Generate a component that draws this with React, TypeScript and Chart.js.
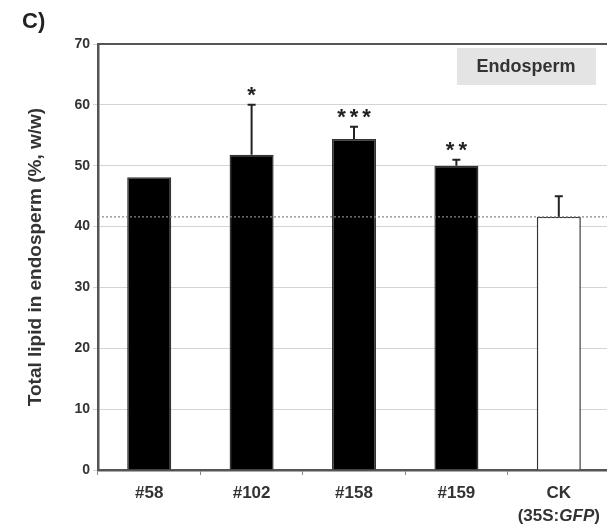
import React, { useEffect, useRef } from "react";
import { Chart, registerables } from "chart.js";

Chart.register(...registerables);

const categories = ["#58", "#102", "#158", "#159", "CK"];
const controlSubLabel = ["(35S:", "GFP", ")"]; // middle part italic
const values = [48.1, 51.8, 54.4, 50.0, 41.6];
const errors = [0, 8.2, 2.0, 1.0, 3.4];
const significance = ["", "*", "***", "**", ""];
const barColors = ["#000000", "#000000", "#000000", "#000000", "#ffffff"];
const yTicks = [0, 10, 20, 30, 40, 50, 60, 70];
const panelLabel = "C)";
const tissueLabel = "Endosperm";
const yTitle = "Total lipid in endosperm (%, w/w)";

const FONT = "'Liberation Sans', Arial, sans-serif";

const overlay = {
  id: "overlay",
  afterDatasetsDraw(chart: any) {
    const ctx = chart.ctx;
    const ca = chart.chartArea;
    const xs = chart.scales.x;
    const ys = chart.scales.y;
    ctx.save();
    // control reference dotted line
    const ckY = ys.getPixelForValue(values[values.length - 1]);
    ctx.strokeStyle = "#888";
    ctx.lineWidth = 1.2;
    ctx.setLineDash([2, 2]);
    ctx.beginPath();
    ctx.moveTo(ca.left, ckY);
    ctx.lineTo(ca.right, ckY);
    ctx.stroke();
    ctx.setLineDash([]);
    // error bars
    ctx.strokeStyle = "#222";
    ctx.lineWidth = 2;
    values.forEach((v, i) => {
      if (!errors[i]) return;
      const x = xs.getPixelForValue(i);
      const y0 = ys.getPixelForValue(v);
      const y1 = ys.getPixelForValue(v + errors[i]);
      ctx.beginPath();
      ctx.moveTo(x, y0);
      ctx.lineTo(x, y1);
      ctx.moveTo(x - 4, y1);
      ctx.lineTo(x + 4, y1);
      ctx.stroke();
    });
    // significance stars
    ctx.fillStyle = "#222";
    ctx.font = "bold 22px " + FONT;
    (ctx as any).letterSpacing = "4px";
    ctx.textAlign = "center";
    ctx.textBaseline = "middle";
    values.forEach((v, i) => {
      if (!significance[i]) return;
      const x = xs.getPixelForValue(i);
      const y1 = ys.getPixelForValue(v + errors[i]);
      ctx.fillText(significance[i], x + 2, y1 - 9);
    });
    (ctx as any).letterSpacing = "0px";
    // frame top border
    ctx.strokeStyle = "#555";
    ctx.lineWidth = 2;
    ctx.beginPath();
    ctx.moveTo(ca.left, ca.top);
    ctx.lineTo(ca.right, ca.top);
    ctx.stroke();
    // tissue label box
    ctx.fillStyle = "#e4e4e4";
    ctx.fillRect(457, 48, 139, 37);
    ctx.fillStyle = "#333";
    ctx.font = "bold 18px " + FONT;
    ctx.fillText(tissueLabel, 526, 67);
    // control second label line with italic GFP
    const fonts = ["bold 17px " + FONT, "italic bold 17px " + FONT, "bold 17px " + FONT];
    const widths = controlSubLabel.map((t, k) => {
      ctx.font = fonts[k];
      return ctx.measureText(t).width;
    });
    const total = widths.reduce((a, b) => a + b, 0);
    let cx = xs.getPixelForValue(values.length - 1) - total / 2;
    ctx.textAlign = "left";
    ctx.fillStyle = "#333";
    controlSubLabel.forEach((t, k) => {
      ctx.font = fonts[k];
      ctx.fillText(t, cx, 516);
      cx += widths[k];
    });
    // panel label
    ctx.fillStyle = "#222";
    ctx.font = "bold 22px " + FONT;
    ctx.fillText(panelLabel, 22, 22);
    ctx.restore();
  },
};

export default function App() {
  const ref = useRef<HTMLCanvasElement>(null);
  useEffect(() => {
    const chart = new Chart(ref.current!, {
      type: "bar",
      data: {
        labels: categories,
        datasets: [
          {
            data: values,
            backgroundColor: barColors,
            borderColor: "#333",
            borderWidth: 1.5,
            barPercentage: 0.86,
            categoryPercentage: 0.5,
          },
        ],
      },
      options: {
        responsive: false,
        animation: false,
        layout: { padding: { left: 0, top: 44, right: 10, bottom: 0 } },
        plugins: { legend: { display: false }, tooltip: { enabled: false } },
        scales: {
          x: {
            offset: true,
            grid: { drawOnChartArea: false, drawTicks: true, tickLength: 5, color: "#888", offset: true },
            border: { color: "#555", width: 2.5 },
            ticks: {
              color: "#333",
              padding: 6,
              maxRotation: 0,
              font: { family: FONT, size: 17, weight: "bold", lineHeight: 1.4 },
            },
            afterFit: (s: any) => {
              s.height = 55;
            },
          },
          y: {
            min: 0,
            max: 70,
            afterBuildTicks: (s: any) => {
              s.ticks = yTicks.map((v) => ({ value: v }));
            },
            grid: { color: "#d4d4d4", lineWidth: 1, tickLength: 5, drawTicks: true },
            border: { color: "#555", width: 2.5 },
            ticks: {
              color: "#333",
              padding: 3,
              font: { family: FONT, size: 14, weight: "bold" },
            },
            title: {
              display: true,
              text: yTitle,
              color: "#333",
              padding: { top: 24, bottom: 0 },
              font: { family: FONT, size: 19, weight: "bold" },
            },
            afterFit: (s: any) => {
              s.width = 98;
            },
          },
        },
      },
      plugins: [overlay],
    });
    return () => chart.destroy();
  }, []);
  return (
    <div style={{ position: "fixed", left: 0, top: 0, width: 607, height: 525, overflow: "hidden", background: "#fff" }}>
      <canvas ref={ref} width={620} height={525} style={{ display: "block" }} />
    </div>
  );
}
